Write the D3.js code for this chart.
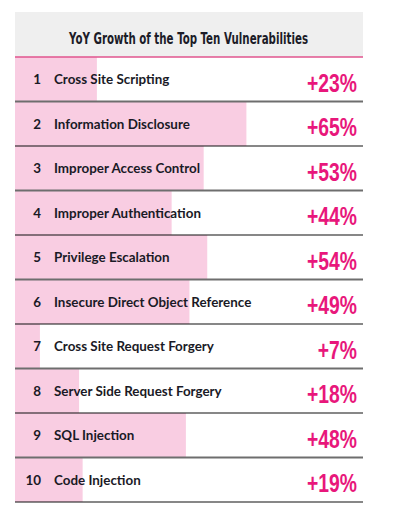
<!DOCTYPE html>
<html><head><meta charset="utf-8">
<script src="https://cdn.jsdelivr.net/npm/d3@7"></script>
<style>body{margin:0;background:#fff}</style>
</head><body><svg id="c" width="397" height="514"></svg>
<script>
const title = "YoY Growth of the Top Ten Vulnerabilities";
const ranks = [1,2,3,4,5,6,7,8,9,10];
const categories = ["Cross Site Scripting","Information Disclosure","Improper Access Control","Improper Authentication","Privilege Escalation","Insecure Direct Object Reference","Cross Site Request Forgery","Server Side Request Forgery","SQL Injection","Code Injection"];
const growth = [23,65,53,44,54,49,7,18,48,19];

const svg = d3.select("#c");
const L = 15, R = 363, headTop = 12, T = 57, B = 502;
const x = d3.scaleLinear().domain([0,100]).range([L, L+356]);
const y = d3.scaleBand().domain(ranks).range([T, B]).padding(0);

svg.append("rect").attr("x",L).attr("y",headTop).attr("width",R-L).attr("height",T-headTop).attr("fill","#efefef");
svg.append("text").attr("x",69).attr("y",43.5)
  .attr("font-family","DejaVu Sans Condensed, DejaVu Sans, sans-serif").attr("font-weight","bold")
  .attr("font-size",15.5).attr("fill","#1c1c28").attr("textLength",239).attr("lengthAdjust","spacingAndGlyphs").text(title);

const g = svg.append("g");
const rows = g.selectAll("g.row").data(ranks).join("g").attr("class","row");
rows.append("rect").attr("x",x(0)).attr("y",d=>y(d)).attr("width",(d,i)=>x(growth[i])-x(0)).attr("height",y.bandwidth()).attr("fill","#f9cde2");
rows.append("text").attr("x",41).attr("y",d=>y(d)+y.bandwidth()/2+4.8).attr("text-anchor","end")
  .attr("font-family","Lato, sans-serif").attr("font-weight","bold").attr("font-size",13.4).attr("fill","#1a1a26").text(d=>d);
rows.append("text").attr("x",54).attr("y",d=>y(d)+y.bandwidth()/2+4.8)
  .attr("font-family","Lato, sans-serif").attr("font-weight","bold").attr("font-size",13.4).attr("fill","#1a1a26").text((d,i)=>categories[i]);
rows.append("text").attr("transform",d=>`translate(357,${y(d)+y.bandwidth()/2+12.3}) scale(0.73,1)`).attr("text-anchor","end")
  .attr("font-family","Liberation Sans, Arial, sans-serif").attr("font-weight","bold").attr("font-size",26.5).attr("fill","#e8177b").text((d,i)=>"+"+growth[i]+"%");

svg.append("line").attr("x1",L).attr("x2",R).attr("y1",T).attr("y2",T).attr("stroke","#e0558e").attr("stroke-width",1.5);
g.selectAll("line.sep").data(ranks).join("line").attr("class","sep")
  .attr("x1",L).attr("x2",R).attr("y1",d=>y(d)+y.bandwidth()).attr("y2",d=>y(d)+y.bandwidth())
  .attr("stroke",(d,i)=>i%2===0?"#6e6e6e":"#111").attr("stroke-width",(d,i)=>i%2===0?2:1.2);
</script></body></html>
